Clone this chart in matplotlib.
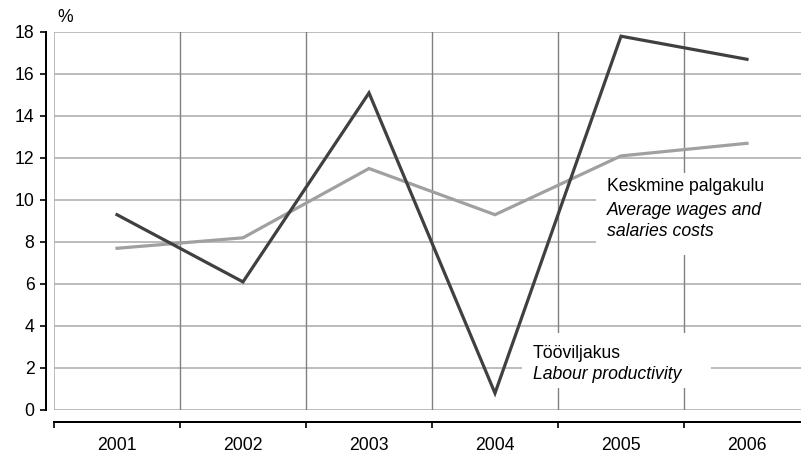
import numpy as np
import matplotlib
matplotlib.use('Agg')
import matplotlib.pyplot as plt
from matplotlib.patches import Rectangle

plt.rcParams['font.family'] = ['Liberation Sans', 'DejaVu Sans']

years = ['2001', '2002', '2003', '2004', '2005', '2006']
productivity = [9.3, 6.1, 15.1, 0.8, 17.8, 16.7]
wages = [7.7, 8.2, 11.5, 9.3, 12.1, 12.7]

DARK = '#404040'
LIGHT = '#a0a0a0'
PX = 72 / 100  # points per pixel
FS = 12.7

fig = plt.figure(figsize=(8.01, 4.54), dpi=100)
ax = fig.add_axes([54 / 801, 44 / 454, 756 / 801, 378 / 454])

x = np.arange(len(years)) + 0.5
ax.set_xlim(0, len(years))
ax.set_ylim(0, 18)

# grid: light horizontals, darker verticals at category boundaries
for yv in range(0, 19, 2):
    ax.axhline(yv, color='#b0b0b0', lw=1.2, zorder=1)
ax.axvline(0, color='#b0b0b0', lw=1.2, zorder=1)
for xv in range(1, len(years)):
    ax.axvline(xv, color='#808080', lw=1.0, zorder=1)

# white label backgrounds covering the grid
ax.add_patch(Rectangle((3.714, 1.05), 1.5, 2.62, facecolor='white', edgecolor='none', zorder=2))
ax.add_patch(Rectangle((4.30, 7.38), 1.8, 3.91, facecolor='white', edgecolor='none', zorder=2))

ax.plot(x, wages, color=LIGHT, lw=2.3, zorder=3, solid_joinstyle='miter')
ax.plot(x, productivity, color=DARK, lw=2.3, zorder=4, solid_joinstyle='miter')

ax.text(4.389, 10.62, 'Keskmine palgakulu', fontsize=FS, va='center', ha='left', zorder=5)
ax.text(4.389, 9.52, 'Average wages and', fontsize=FS, style='italic', va='center', ha='left', zorder=5)
ax.text(4.389, 8.48, 'salaries costs', fontsize=FS, style='italic', va='center', ha='left', zorder=5)
ax.text(3.80, 2.71, 'Tööviljakus', fontsize=FS, va='center', ha='left', zorder=5)
ax.text(3.80, 1.67, 'Labour productivity', fontsize=FS, style='italic', va='center', ha='left', zorder=5)

# axes styling
for s in ['top', 'right']:
    ax.spines[s].set_visible(False)
ax.spines['left'].set_position(('outward', 8 * PX))
ax.spines['bottom'].set_position(('outward', 12 * PX))
ax.spines['left'].set_linewidth(2 * PX)
ax.spines['bottom'].set_linewidth(2 * PX)

ax.set_yticks(range(0, 19, 2))
ax.tick_params(axis='y', length=6 * PX, width=1.2, labelsize=FS, pad=4)

ax.set_xticks(range(0, len(years) + 1))
ax.set_xticklabels([])
ax.set_xticks(x, minor=True)
ax.set_xticklabels(years, minor=True)
ax.tick_params(axis='x', which='major', direction='out', length=6 * PX, width=1.2)
ax.tick_params(axis='x', which='minor', length=0, labelsize=FS, pad=11)

fig.text(65 / 801, 1 - 17 / 454, '%', fontsize=FS, ha='center', va='center')

fig.savefig('out.png', dpi=100)
